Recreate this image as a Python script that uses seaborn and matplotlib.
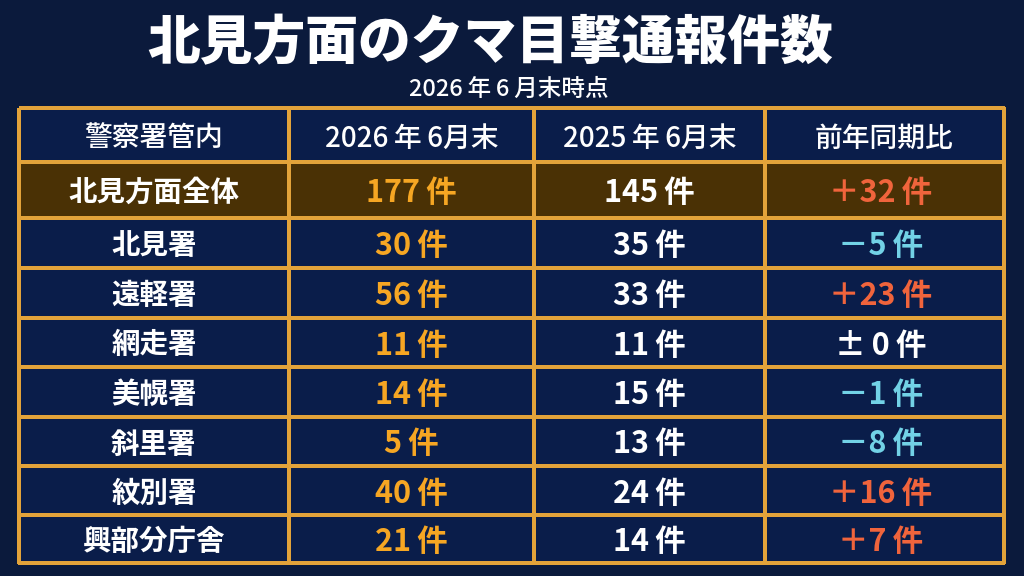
import matplotlib.pyplot as plt
import seaborn as sns
import numpy as np
from matplotlib.colors import ListedColormap

# データ
stations = ["北見方面全体", "北見署", "遠軽署", "網走署", "美幌署", "斜里署", "紋別署", "興部分庁舎"]
count_2026 = [177, 30, 56, 11, 14, 5, 40, 21]
count_2025 = [145, 35, 33, 11, 15, 13, 24, 14]
headers = ["警察署管内", "2026\u2009年\u20096月末", "2025\u2009年\u20096月末", "前年同期比"]

sns.set_theme(style="white")
plt.rcParams["font.family"] = ["Noto Sans CJK JP", "DejaVu Sans"]

BG = "#0b1a3c"
CELL = "#0a1d4a"
HL = "#4a3105"
LINE = "#e3a33a"
ORANGE = "#f6a623"
RED = "#f0643c"
CYAN = "#72d2e6"
SP = "\u2009"

fig = plt.figure(figsize=(10.24, 5.76), dpi=100, facecolor=BG)
ax = fig.add_axes([0, 0, 1, 1])
ax.set_facecolor(BG)
ax.set_xlim(0, 1024)
ax.set_ylim(576, 0)
ax.axis("off")

# 表のレイアウト
x_edges = np.array([19, 289, 534, 765, 1004])
y_edges = np.array([108, 162, 218, 268, 318, 367, 417, 466, 515, 563])
n_rows = len(stations) + 1
fill = np.zeros((n_rows, 4))
fill[1, :] = 1  # 合計行を強調
ax.pcolormesh(x_edges, y_edges, fill, cmap=ListedColormap([CELL, HL]),
              edgecolors=LINE, linewidth=1.5, vmin=0, vmax=1)

xc = (x_edges[:-1] + x_edges[1:]) / 2
yc = (y_edges[:-1] + y_edges[1:]) / 2 + 3

ax.text(490, 44, "北見方面のクマ目撃通報件数", color="white", fontsize=38,
        fontweight="heavy", ha="center", va="center")
ax.text(509, 89, f"2026{SP}年{SP}6{SP}月末時点", color="white", fontsize=17,
        fontweight="medium", ha="center", va="center")

for j, h in enumerate(headers):
    ax.text(xc[j], yc[0], h, color="white", fontsize=20, fontweight="medium",
            ha="center", va="center")

for i, name in enumerate(stations):
    y = yc[i + 1]
    ax.text(xc[0], y, name, color="white", fontsize=20.5, fontweight="bold",
            ha="center", va="center")
    ax.text(xc[1], y, f"{count_2026[i]}{SP}件", color=ORANGE, fontsize=22,
            fontweight="bold", ha="center", va="center")
    ax.text(xc[2], y, f"{count_2025[i]}{SP}件", color="white", fontsize=22,
            fontweight="bold", ha="center", va="center")
    d = count_2026[i] - count_2025[i]
    if d > 0:
        label, col = f"＋{d}{SP}件", RED
    elif d < 0:
        label, col = f"－{-d}{SP}件", CYAN
    else:
        label, col = f"±{SP}0{SP}件", "white"
    ax.text(xc[3] - 4, y, label, color=col, fontsize=22, fontweight="bold",
            ha="center", va="center")

fig.savefig("out.png", dpi=100, facecolor=BG)
